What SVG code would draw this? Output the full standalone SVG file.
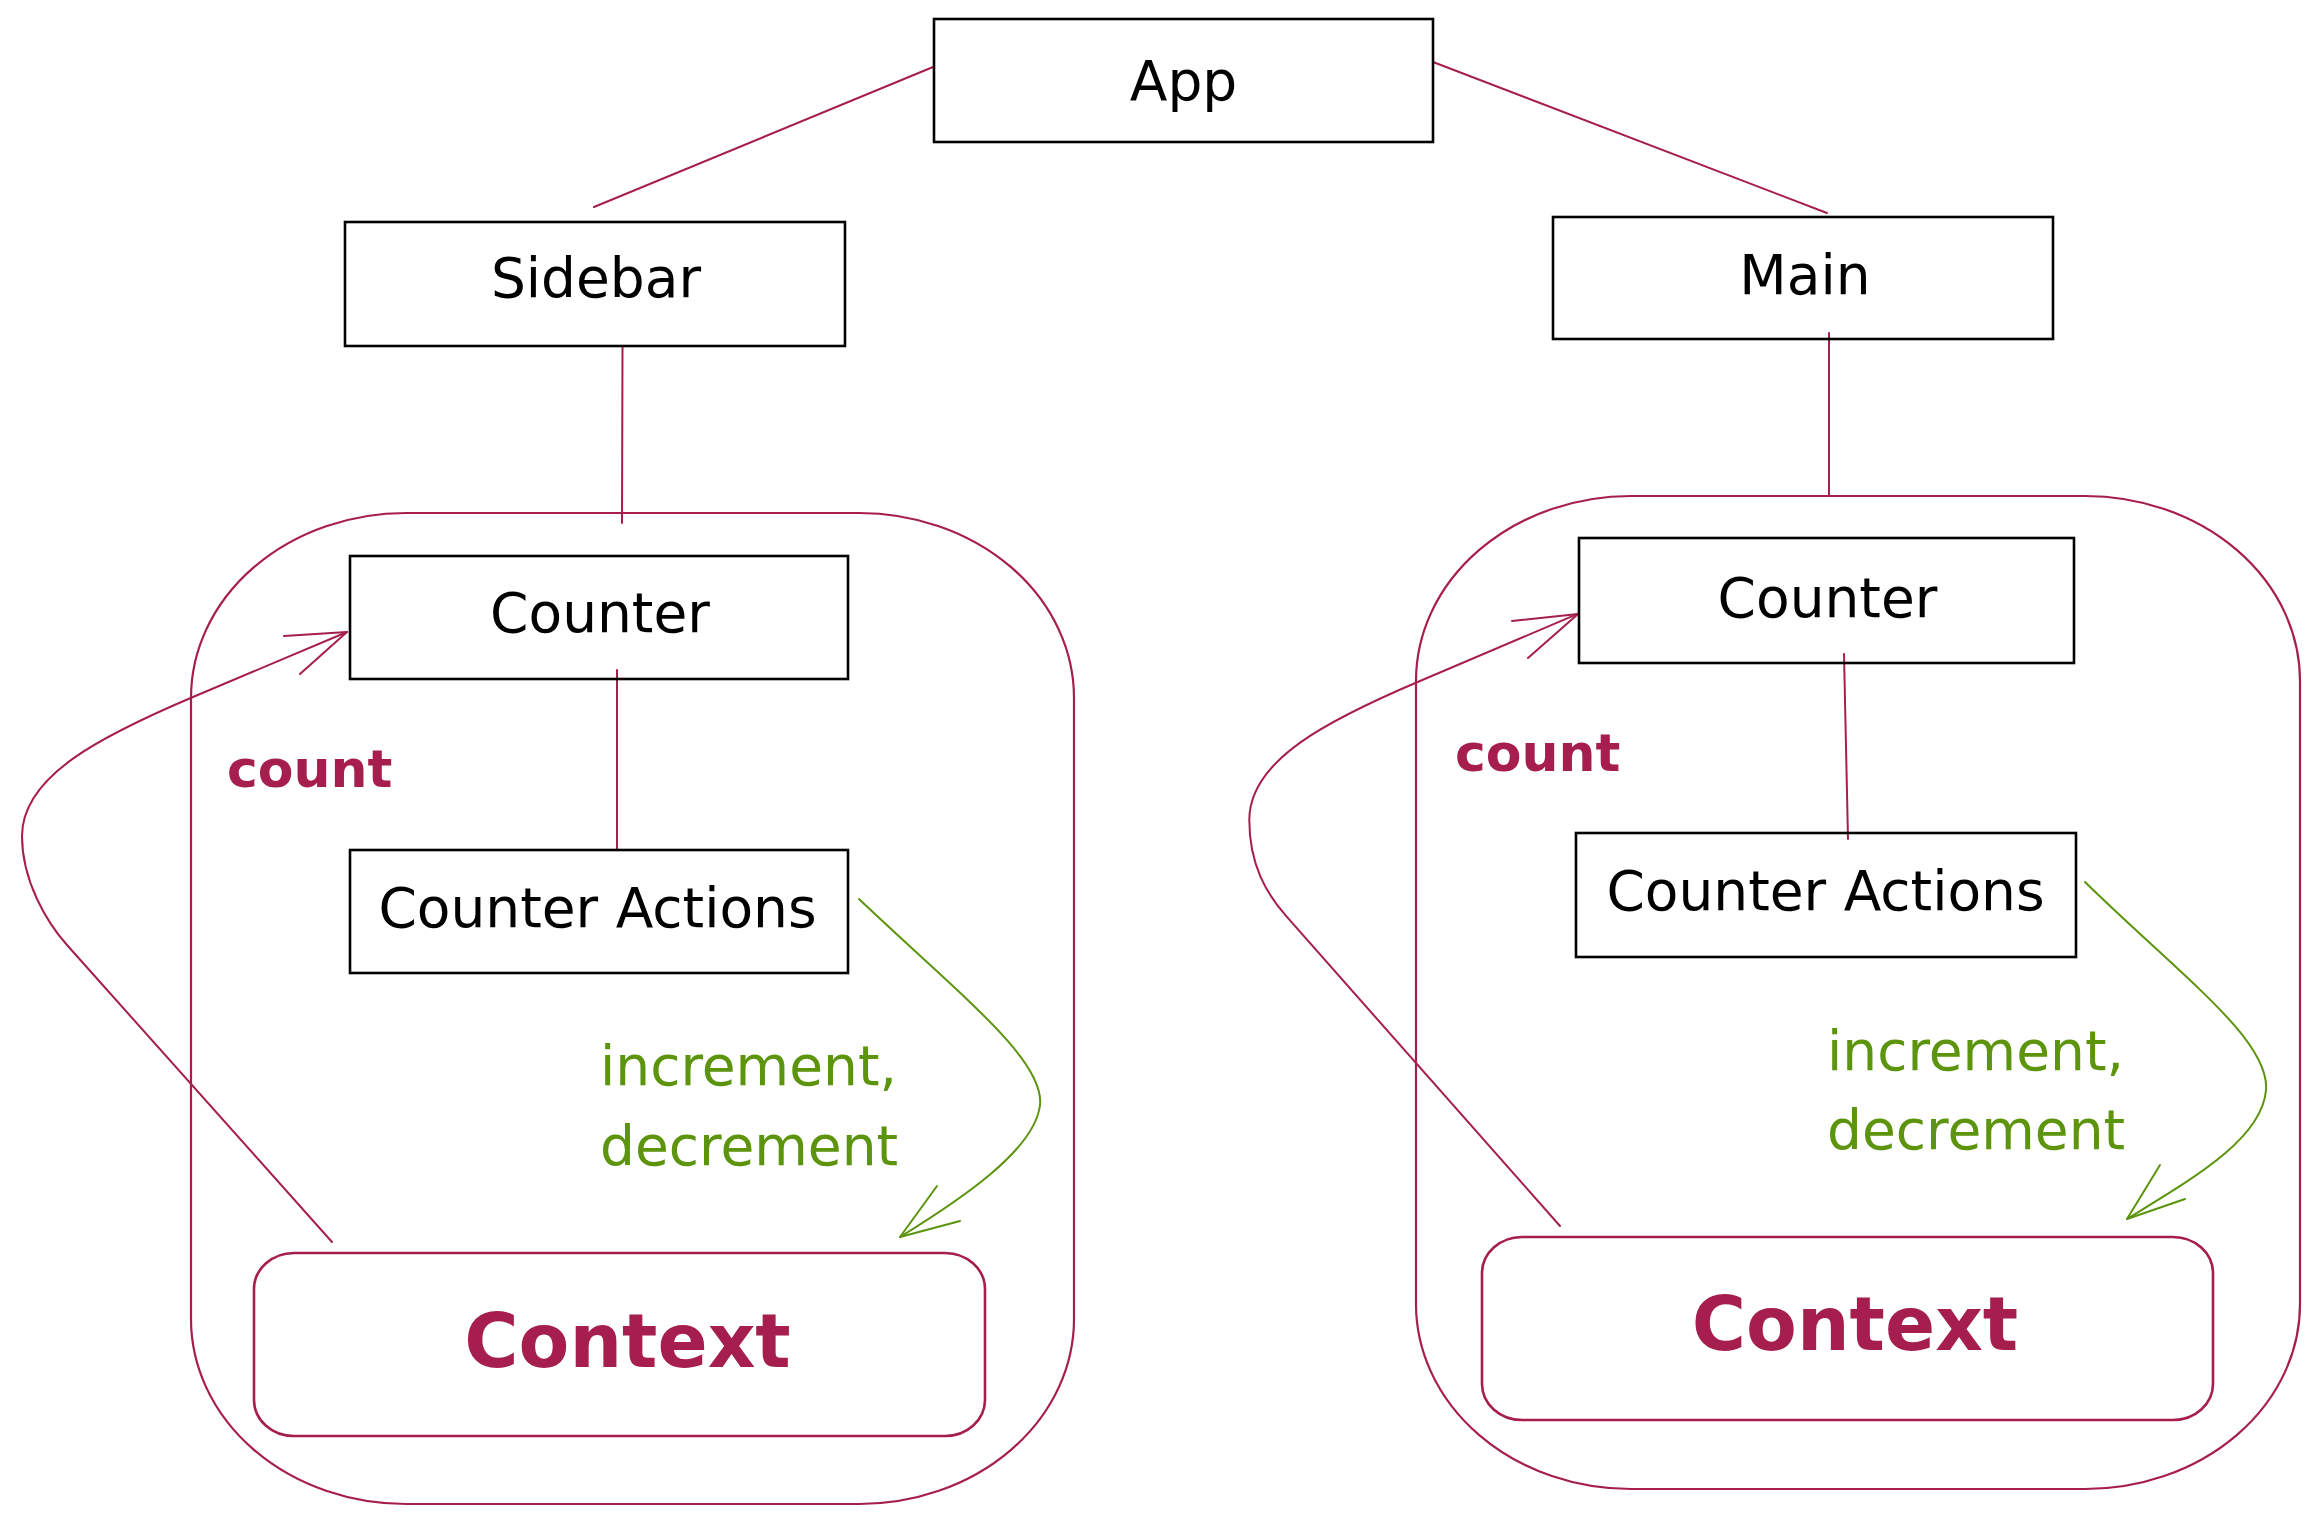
<svg xmlns="http://www.w3.org/2000/svg" width="2322" height="1524" viewBox="0 0 2322 1524">
<defs>
<style>
.box{fill:none;stroke:#000;stroke-width:2.6}
.ctx{fill:none;stroke:#a61e4d;stroke-width:2.6}
.wrap{fill:none;stroke:#a61e4d;stroke-width:2.2}
.red{fill:none;stroke:#a61e4d;stroke-width:2;stroke-linecap:round;stroke-linejoin:round}
.green{fill:none;stroke:#5c940d;stroke-width:2;stroke-linecap:round;stroke-linejoin:round}
.lbl{font-family:"DejaVu Sans","Liberation Sans",sans-serif;font-size:55px;fill:#000;text-anchor:middle}
.ctxt{font-family:"DejaVu Sans","Liberation Sans",sans-serif;font-size:74px;font-weight:bold;fill:#a61e4d;text-anchor:middle}
.cnt{font-family:"DejaVu Sans","Liberation Sans",sans-serif;font-size:52px;font-weight:bold;fill:#a61e4d}
.act{font-family:"DejaVu Sans","Liberation Sans",sans-serif;font-size:55px;fill:#5c940d}
</style>
</defs>
<rect width="2322" height="1524" fill="#fff"/>

<g id="container-left"><rect class="wrap" x="191" y="513" width="883" height="991" rx="215" ry="185"/></g>
<g id="container-right"><rect class="wrap" x="1416" y="496" width="884" height="993" rx="215" ry="185"/></g>

<g id="connectors">
<path class="red" d="M933,67 L594,207"/>
<path class="red" d="M1433,62 L1827,213"/>
<path class="red" d="M622.5,346 L622,523"/>
<path class="red" d="M1829,333 L1829,496"/>
<path class="red" d="M617,670 L617,850"/>
<path class="red" d="M1844,654 L1848,839"/>
<path class="red" d="M332,1242 L67,945 C47,922.6 22,881 22,836 C22,776 101,736 193,697 L347,632"/>
<path class="red" d="M284,636 L347,632 L300,674"/>
<path class="red" d="M1560,1226 L1286.7,916.7 C1266.8,894.2 1249.3,865 1249.3,820 C1249.3,760 1328,720 1420,681 L1578.3,613.7"/>
<path class="red" d="M1512,621 L1578,614 L1528,658"/>
<path class="green" d="M859,899 C960,995 1045,1060 1040,1105 C1035,1150 960,1200 900,1237"/>
<path class="green" d="M937,1186 L900,1237 L960,1221"/>
<path class="green" d="M2085,882 C2180,975 2270,1040 2266,1090 C2262,1140 2190,1180 2127,1219"/>
<path class="green" d="M2160,1165 L2127,1219 L2185,1199"/>
</g>

<g id="app"><rect class="box" x="934" y="19" width="499" height="123"/><text class="lbl" x="1183.5" y="100">App</text></g>
<g id="sidebar"><rect class="box" x="345" y="222" width="500" height="124"/><text class="lbl" x="596" y="297">Sidebar</text></g>
<g id="main"><rect class="box" x="1553" y="217" width="500" height="122"/><text class="lbl" x="1805" y="294">Main</text></g>
<g id="counter-left"><rect class="box" x="350" y="556" width="498" height="123"/><text class="lbl" x="600" y="632">Counter</text></g>
<g id="counter-actions-left"><rect class="box" x="350" y="850" width="498" height="123"/><text class="lbl" x="597.5" y="927">Counter Actions</text></g>
<g id="counter-right"><rect class="box" x="1579" y="538" width="495" height="125"/><text class="lbl" x="1827.5" y="617">Counter</text></g>
<g id="counter-actions-right"><rect class="box" x="1576" y="833" width="500" height="124"/><text class="lbl" x="1825.5" y="910">Counter Actions</text></g>
<g id="context-left"><rect class="ctx" x="254" y="1253" width="731" height="183" rx="40" ry="36"/><text class="ctxt" x="627.5" y="1367">Context</text></g>
<g id="context-right"><rect class="ctx" x="1482" y="1237" width="731" height="183" rx="40" ry="36"/><text class="ctxt" x="1855" y="1350">Context</text></g>

<g id="labels">
<text class="cnt" x="227" y="787">count</text>
<text class="cnt" x="1455" y="771">count</text>
<text class="act" x="600" y="1085">increment,</text>
<text class="act" x="600" y="1165">decrement</text>
<text class="act" x="1827" y="1070">increment,</text>
<text class="act" x="1827" y="1149">decrement</text>
</g>
</svg>
